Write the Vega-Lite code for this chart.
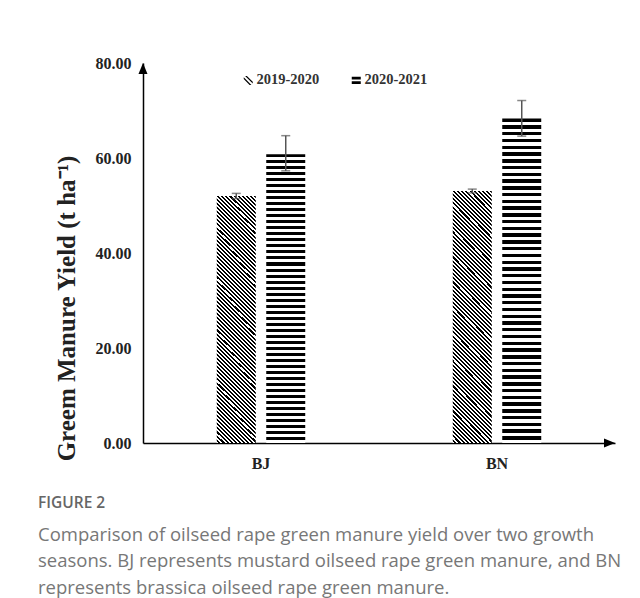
{
"$schema": "https://vega.github.io/schema/vega-lite/v6.json",
"width": 472,
"height": 380,
"autosize": "none",
"padding": {"left": 143, "top": 63, "right": 25, "bottom": 155},
"background": "white",
"config": {"view": {"stroke": null}},
"data": {"values": [
{"group": "BJ", "year": "2019-2020", "yield": 52.0, "lo": 51.45, "hi": 52.55},
{"group": "BJ", "year": "2020-2021", "yield": 60.8, "lo": 57.3, "hi": 64.7},
{"group": "BN", "year": "2019-2020", "yield": 53.05, "lo": 52.65, "hi": 53.45},
{"group": "BN", "year": "2020-2021", "yield": 68.3, "lo": 64.6, "hi": 72.1}
]},
"title": {
"text": "FIGURE 2",
"subtitle": ["Comparison of oilseed rape green manure yield over two growth", "seasons. BJ represents mustard oilseed rape green manure, and BN", "represents brassica oilseed rape green manure."],
"orient": "bottom", "anchor": "start", "frame": "group", "dx": -105, "offset": 25,
"font": "Open Sans", "fontSize": 15.5, "fontWeight": 600, "color": "#666",
"subtitleFont": "Open Sans", "subtitleFontSize": 18.5, "subtitleColor": "#777", "subtitleLineHeight": 26.5, "subtitlePadding": 14
},
"layer": [
{"transform": [{"filter": "datum.year === '2019-2020'"}],
 "encoding": {
"x": {"field": "group", "type": "nominal", "title": null, "scale": {"paddingInner": 0.6, "paddingOuter": 0.3},
 "axis": {"title": null, "ticks": false, "grid": false, "domainColor": "#000", "domainWidth": 1.5, "labelAngle": 0, "labelFont": "Liberation Serif", "labelFontWeight": "bold", "labelFontSize": 16, "labelColor": "#222", "labelPadding": 12}},
"y": {"field": "yield", "type": "quantitative", "title": "Greem Manure Yield (t ha⁻¹)", "scale": {"domain": [0, 80], "nice": false},
 "axis": {"values": [0, 20, 40, 60, 80], "format": ".2f", "ticks": false, "grid": false, "domainColor": "#000", "domainWidth": 1.5, "labelFont": "Liberation Serif", "labelFontWeight": "bold", "labelFontSize": 16, "labelColor": "#222", "labelPadding": 12, "titleFont": "Liberation Serif", "titleFontWeight": "bold", "titleFontSize": 25, "titleColor": "#222", "titleX": -77, "titleY": 245, "titleAngle": -90, "titleBaseline": "middle", "titleAlign": "center"}},
 "xOffset": {"field": "year", "type": "nominal", "scale": {"domain": ["2019-2020", "2020-2021"], "paddingInner": 0.212, "paddingOuter": 0.06}}},
 "mark": {"type": "bar", "fill": {"gradient": "linear", "x1": 1, "y1": 0, "x2": 0.8239, "y2": 1.1285, "stops": [
{"offset":0,"color":"#000"},{"offset":0.0071,"color":"#000"},{"offset":0.0071,"color":"#fff"},{"offset":0.0143,"color":"#fff"},
{"offset":0.0143,"color":"#000"},{"offset":0.0214,"color":"#000"},{"offset":0.0214,"color":"#fff"},{"offset":0.0286,"color":"#fff"},
{"offset":0.0286,"color":"#000"},{"offset":0.0357,"color":"#000"},{"offset":0.0357,"color":"#fff"},{"offset":0.0429,"color":"#fff"},
{"offset":0.0429,"color":"#000"},{"offset":0.05,"color":"#000"},{"offset":0.05,"color":"#fff"},{"offset":0.0571,"color":"#fff"},
{"offset":0.0571,"color":"#000"},{"offset":0.0643,"color":"#000"},{"offset":0.0643,"color":"#fff"},{"offset":0.0714,"color":"#fff"},
{"offset":0.0714,"color":"#000"},{"offset":0.0786,"color":"#000"},{"offset":0.0786,"color":"#fff"},{"offset":0.0857,"color":"#fff"},
{"offset":0.0857,"color":"#000"},{"offset":0.0929,"color":"#000"},{"offset":0.0929,"color":"#fff"},{"offset":0.1,"color":"#fff"},
{"offset":0.1,"color":"#000"},{"offset":0.1071,"color":"#000"},{"offset":0.1071,"color":"#fff"},{"offset":0.1143,"color":"#fff"},
{"offset":0.1143,"color":"#000"},{"offset":0.1214,"color":"#000"},{"offset":0.1214,"color":"#fff"},{"offset":0.1286,"color":"#fff"},
{"offset":0.1286,"color":"#000"},{"offset":0.1357,"color":"#000"},{"offset":0.1357,"color":"#fff"},{"offset":0.1429,"color":"#fff"},
{"offset":0.1429,"color":"#000"},{"offset":0.15,"color":"#000"},{"offset":0.15,"color":"#fff"},{"offset":0.1571,"color":"#fff"},
{"offset":0.1571,"color":"#000"},{"offset":0.1643,"color":"#000"},{"offset":0.1643,"color":"#fff"},{"offset":0.1714,"color":"#fff"},
{"offset":0.1714,"color":"#000"},{"offset":0.1786,"color":"#000"},{"offset":0.1786,"color":"#fff"},{"offset":0.1857,"color":"#fff"},
{"offset":0.1857,"color":"#000"},{"offset":0.1929,"color":"#000"},{"offset":0.1929,"color":"#fff"},{"offset":0.2,"color":"#fff"},
{"offset":0.2,"color":"#000"},{"offset":0.2071,"color":"#000"},{"offset":0.2071,"color":"#fff"},{"offset":0.2143,"color":"#fff"},
{"offset":0.2143,"color":"#000"},{"offset":0.2214,"color":"#000"},{"offset":0.2214,"color":"#fff"},{"offset":0.2286,"color":"#fff"},
{"offset":0.2286,"color":"#000"},{"offset":0.2357,"color":"#000"},{"offset":0.2357,"color":"#fff"},{"offset":0.2429,"color":"#fff"},
{"offset":0.2429,"color":"#000"},{"offset":0.25,"color":"#000"},{"offset":0.25,"color":"#fff"},{"offset":0.2571,"color":"#fff"},
{"offset":0.2571,"color":"#000"},{"offset":0.2643,"color":"#000"},{"offset":0.2643,"color":"#fff"},{"offset":0.2714,"color":"#fff"},
{"offset":0.2714,"color":"#000"},{"offset":0.2786,"color":"#000"},{"offset":0.2786,"color":"#fff"},{"offset":0.2857,"color":"#fff"},
{"offset":0.2857,"color":"#000"},{"offset":0.2929,"color":"#000"},{"offset":0.2929,"color":"#fff"},{"offset":0.3,"color":"#fff"},
{"offset":0.3,"color":"#000"},{"offset":0.3071,"color":"#000"},{"offset":0.3071,"color":"#fff"},{"offset":0.3143,"color":"#fff"},
{"offset":0.3143,"color":"#000"},{"offset":0.3214,"color":"#000"},{"offset":0.3214,"color":"#fff"},{"offset":0.3286,"color":"#fff"},
{"offset":0.3286,"color":"#000"},{"offset":0.3357,"color":"#000"},{"offset":0.3357,"color":"#fff"},{"offset":0.3429,"color":"#fff"},
{"offset":0.3429,"color":"#000"},{"offset":0.35,"color":"#000"},{"offset":0.35,"color":"#fff"},{"offset":0.3571,"color":"#fff"},
{"offset":0.3571,"color":"#000"},{"offset":0.3643,"color":"#000"},{"offset":0.3643,"color":"#fff"},{"offset":0.3714,"color":"#fff"},
{"offset":0.3714,"color":"#000"},{"offset":0.3786,"color":"#000"},{"offset":0.3786,"color":"#fff"},{"offset":0.3857,"color":"#fff"},
{"offset":0.3857,"color":"#000"},{"offset":0.3929,"color":"#000"},{"offset":0.3929,"color":"#fff"},{"offset":0.4,"color":"#fff"},
{"offset":0.4,"color":"#000"},{"offset":0.4071,"color":"#000"},{"offset":0.4071,"color":"#fff"},{"offset":0.4143,"color":"#fff"},
{"offset":0.4143,"color":"#000"},{"offset":0.4214,"color":"#000"},{"offset":0.4214,"color":"#fff"},{"offset":0.4286,"color":"#fff"},
{"offset":0.4286,"color":"#000"},{"offset":0.4357,"color":"#000"},{"offset":0.4357,"color":"#fff"},{"offset":0.4429,"color":"#fff"},
{"offset":0.4429,"color":"#000"},{"offset":0.45,"color":"#000"},{"offset":0.45,"color":"#fff"},{"offset":0.4571,"color":"#fff"},
{"offset":0.4571,"color":"#000"},{"offset":0.4643,"color":"#000"},{"offset":0.4643,"color":"#fff"},{"offset":0.4714,"color":"#fff"},
{"offset":0.4714,"color":"#000"},{"offset":0.4786,"color":"#000"},{"offset":0.4786,"color":"#fff"},{"offset":0.4857,"color":"#fff"},
{"offset":0.4857,"color":"#000"},{"offset":0.4929,"color":"#000"},{"offset":0.4929,"color":"#fff"},{"offset":0.5,"color":"#fff"},
{"offset":0.5,"color":"#000"},{"offset":0.5071,"color":"#000"},{"offset":0.5071,"color":"#fff"},{"offset":0.5143,"color":"#fff"},
{"offset":0.5143,"color":"#000"},{"offset":0.5214,"color":"#000"},{"offset":0.5214,"color":"#fff"},{"offset":0.5286,"color":"#fff"},
{"offset":0.5286,"color":"#000"},{"offset":0.5357,"color":"#000"},{"offset":0.5357,"color":"#fff"},{"offset":0.5429,"color":"#fff"},
{"offset":0.5429,"color":"#000"},{"offset":0.55,"color":"#000"},{"offset":0.55,"color":"#fff"},{"offset":0.5571,"color":"#fff"},
{"offset":0.5571,"color":"#000"},{"offset":0.5643,"color":"#000"},{"offset":0.5643,"color":"#fff"},{"offset":0.5714,"color":"#fff"},
{"offset":0.5714,"color":"#000"},{"offset":0.5786,"color":"#000"},{"offset":0.5786,"color":"#fff"},{"offset":0.5857,"color":"#fff"},
{"offset":0.5857,"color":"#000"},{"offset":0.5929,"color":"#000"},{"offset":0.5929,"color":"#fff"},{"offset":0.6,"color":"#fff"},
{"offset":0.6,"color":"#000"},{"offset":0.6071,"color":"#000"},{"offset":0.6071,"color":"#fff"},{"offset":0.6143,"color":"#fff"},
{"offset":0.6143,"color":"#000"},{"offset":0.6214,"color":"#000"},{"offset":0.6214,"color":"#fff"},{"offset":0.6286,"color":"#fff"},
{"offset":0.6286,"color":"#000"},{"offset":0.6357,"color":"#000"},{"offset":0.6357,"color":"#fff"},{"offset":0.6429,"color":"#fff"},
{"offset":0.6429,"color":"#000"},{"offset":0.65,"color":"#000"},{"offset":0.65,"color":"#fff"},{"offset":0.6571,"color":"#fff"},
{"offset":0.6571,"color":"#000"},{"offset":0.6643,"color":"#000"},{"offset":0.6643,"color":"#fff"},{"offset":0.6714,"color":"#fff"},
{"offset":0.6714,"color":"#000"},{"offset":0.6786,"color":"#000"},{"offset":0.6786,"color":"#fff"},{"offset":0.6857,"color":"#fff"},
{"offset":0.6857,"color":"#000"},{"offset":0.6929,"color":"#000"},{"offset":0.6929,"color":"#fff"},{"offset":0.7,"color":"#fff"},
{"offset":0.7,"color":"#000"},{"offset":0.7071,"color":"#000"},{"offset":0.7071,"color":"#fff"},{"offset":0.7143,"color":"#fff"},
{"offset":0.7143,"color":"#000"},{"offset":0.7214,"color":"#000"},{"offset":0.7214,"color":"#fff"},{"offset":0.7286,"color":"#fff"},
{"offset":0.7286,"color":"#000"},{"offset":0.7357,"color":"#000"},{"offset":0.7357,"color":"#fff"},{"offset":0.7429,"color":"#fff"},
{"offset":0.7429,"color":"#000"},{"offset":0.75,"color":"#000"},{"offset":0.75,"color":"#fff"},{"offset":0.7571,"color":"#fff"},
{"offset":0.7571,"color":"#000"},{"offset":0.7643,"color":"#000"},{"offset":0.7643,"color":"#fff"},{"offset":0.7714,"color":"#fff"},
{"offset":0.7714,"color":"#000"},{"offset":0.7786,"color":"#000"},{"offset":0.7786,"color":"#fff"},{"offset":0.7857,"color":"#fff"},
{"offset":0.7857,"color":"#000"},{"offset":0.7929,"color":"#000"},{"offset":0.7929,"color":"#fff"},{"offset":0.8,"color":"#fff"},
{"offset":0.8,"color":"#000"},{"offset":0.8071,"color":"#000"},{"offset":0.8071,"color":"#fff"},{"offset":0.8143,"color":"#fff"},
{"offset":0.8143,"color":"#000"},{"offset":0.8214,"color":"#000"},{"offset":0.8214,"color":"#fff"},{"offset":0.8286,"color":"#fff"},
{"offset":0.8286,"color":"#000"},{"offset":0.8357,"color":"#000"},{"offset":0.8357,"color":"#fff"},{"offset":0.8429,"color":"#fff"},
{"offset":0.8429,"color":"#000"},{"offset":0.85,"color":"#000"},{"offset":0.85,"color":"#fff"},{"offset":0.8571,"color":"#fff"},
{"offset":0.8571,"color":"#000"},{"offset":0.8643,"color":"#000"},{"offset":0.8643,"color":"#fff"},{"offset":0.8714,"color":"#fff"},
{"offset":0.8714,"color":"#000"},{"offset":0.8786,"color":"#000"},{"offset":0.8786,"color":"#fff"},{"offset":0.8857,"color":"#fff"},
{"offset":0.8857,"color":"#000"},{"offset":0.8929,"color":"#000"},{"offset":0.8929,"color":"#fff"},{"offset":0.9,"color":"#fff"},
{"offset":0.9,"color":"#000"},{"offset":0.9071,"color":"#000"},{"offset":0.9071,"color":"#fff"},{"offset":0.9143,"color":"#fff"},
{"offset":0.9143,"color":"#000"},{"offset":0.9214,"color":"#000"},{"offset":0.9214,"color":"#fff"},{"offset":0.9286,"color":"#fff"},
{"offset":0.9286,"color":"#000"},{"offset":0.9357,"color":"#000"},{"offset":0.9357,"color":"#fff"},{"offset":0.9429,"color":"#fff"},
{"offset":0.9429,"color":"#000"},{"offset":0.95,"color":"#000"},{"offset":0.95,"color":"#fff"},{"offset":0.9571,"color":"#fff"},
{"offset":0.9571,"color":"#000"},{"offset":0.9643,"color":"#000"},{"offset":0.9643,"color":"#fff"},{"offset":0.9714,"color":"#fff"},
{"offset":0.9714,"color":"#000"},{"offset":0.9786,"color":"#000"},{"offset":0.9786,"color":"#fff"},{"offset":0.9857,"color":"#fff"},
{"offset":0.9857,"color":"#000"},{"offset":0.9929,"color":"#000"},{"offset":0.9929,"color":"#fff"},{"offset":1,"color":"#fff"}
]}}},
{"transform": [{"filter": "datum.year === '2020-2021'"}],
 "encoding": {"x": {"field": "group", "type": "nominal"}, "y": {"field": "yield", "type": "quantitative", "title": "Greem Manure Yield (t ha⁻¹)"}, "xOffset": {"field": "year", "type": "nominal"}},
 "mark": {"type": "bar", "fill": {"gradient": "linear", "x1": 0, "y1": 0, "x2": 0, "y2": 1, "stops": [
{"offset":0,"color":"#000"},{"offset":0.0104,"color":"#000"},{"offset":0.0104,"color":"#fff"},{"offset":0.0208,"color":"#fff"},
{"offset":0.0208,"color":"#000"},{"offset":0.0313,"color":"#000"},{"offset":0.0313,"color":"#fff"},{"offset":0.0417,"color":"#fff"},
{"offset":0.0417,"color":"#000"},{"offset":0.0521,"color":"#000"},{"offset":0.0521,"color":"#fff"},{"offset":0.0625,"color":"#fff"},
{"offset":0.0625,"color":"#000"},{"offset":0.0729,"color":"#000"},{"offset":0.0729,"color":"#fff"},{"offset":0.0833,"color":"#fff"},
{"offset":0.0833,"color":"#000"},{"offset":0.0938,"color":"#000"},{"offset":0.0938,"color":"#fff"},{"offset":0.1042,"color":"#fff"},
{"offset":0.1042,"color":"#000"},{"offset":0.1146,"color":"#000"},{"offset":0.1146,"color":"#fff"},{"offset":0.125,"color":"#fff"},
{"offset":0.125,"color":"#000"},{"offset":0.1354,"color":"#000"},{"offset":0.1354,"color":"#fff"},{"offset":0.1458,"color":"#fff"},
{"offset":0.1458,"color":"#000"},{"offset":0.1563,"color":"#000"},{"offset":0.1563,"color":"#fff"},{"offset":0.1667,"color":"#fff"},
{"offset":0.1667,"color":"#000"},{"offset":0.1771,"color":"#000"},{"offset":0.1771,"color":"#fff"},{"offset":0.1875,"color":"#fff"},
{"offset":0.1875,"color":"#000"},{"offset":0.1979,"color":"#000"},{"offset":0.1979,"color":"#fff"},{"offset":0.2083,"color":"#fff"},
{"offset":0.2083,"color":"#000"},{"offset":0.2188,"color":"#000"},{"offset":0.2188,"color":"#fff"},{"offset":0.2292,"color":"#fff"},
{"offset":0.2292,"color":"#000"},{"offset":0.2396,"color":"#000"},{"offset":0.2396,"color":"#fff"},{"offset":0.25,"color":"#fff"},
{"offset":0.25,"color":"#000"},{"offset":0.2604,"color":"#000"},{"offset":0.2604,"color":"#fff"},{"offset":0.2708,"color":"#fff"},
{"offset":0.2708,"color":"#000"},{"offset":0.2813,"color":"#000"},{"offset":0.2813,"color":"#fff"},{"offset":0.2917,"color":"#fff"},
{"offset":0.2917,"color":"#000"},{"offset":0.3021,"color":"#000"},{"offset":0.3021,"color":"#fff"},{"offset":0.3125,"color":"#fff"},
{"offset":0.3125,"color":"#000"},{"offset":0.3229,"color":"#000"},{"offset":0.3229,"color":"#fff"},{"offset":0.3333,"color":"#fff"},
{"offset":0.3333,"color":"#000"},{"offset":0.3438,"color":"#000"},{"offset":0.3438,"color":"#fff"},{"offset":0.3542,"color":"#fff"},
{"offset":0.3542,"color":"#000"},{"offset":0.3646,"color":"#000"},{"offset":0.3646,"color":"#fff"},{"offset":0.375,"color":"#fff"},
{"offset":0.375,"color":"#000"},{"offset":0.3854,"color":"#000"},{"offset":0.3854,"color":"#fff"},{"offset":0.3958,"color":"#fff"},
{"offset":0.3958,"color":"#000"},{"offset":0.4063,"color":"#000"},{"offset":0.4063,"color":"#fff"},{"offset":0.4167,"color":"#fff"},
{"offset":0.4167,"color":"#000"},{"offset":0.4271,"color":"#000"},{"offset":0.4271,"color":"#fff"},{"offset":0.4375,"color":"#fff"},
{"offset":0.4375,"color":"#000"},{"offset":0.4479,"color":"#000"},{"offset":0.4479,"color":"#fff"},{"offset":0.4583,"color":"#fff"},
{"offset":0.4583,"color":"#000"},{"offset":0.4688,"color":"#000"},{"offset":0.4688,"color":"#fff"},{"offset":0.4792,"color":"#fff"},
{"offset":0.4792,"color":"#000"},{"offset":0.4896,"color":"#000"},{"offset":0.4896,"color":"#fff"},{"offset":0.5,"color":"#fff"},
{"offset":0.5,"color":"#000"},{"offset":0.5104,"color":"#000"},{"offset":0.5104,"color":"#fff"},{"offset":0.5208,"color":"#fff"},
{"offset":0.5208,"color":"#000"},{"offset":0.5313,"color":"#000"},{"offset":0.5313,"color":"#fff"},{"offset":0.5417,"color":"#fff"},
{"offset":0.5417,"color":"#000"},{"offset":0.5521,"color":"#000"},{"offset":0.5521,"color":"#fff"},{"offset":0.5625,"color":"#fff"},
{"offset":0.5625,"color":"#000"},{"offset":0.5729,"color":"#000"},{"offset":0.5729,"color":"#fff"},{"offset":0.5833,"color":"#fff"},
{"offset":0.5833,"color":"#000"},{"offset":0.5938,"color":"#000"},{"offset":0.5938,"color":"#fff"},{"offset":0.6042,"color":"#fff"},
{"offset":0.6042,"color":"#000"},{"offset":0.6146,"color":"#000"},{"offset":0.6146,"color":"#fff"},{"offset":0.625,"color":"#fff"},
{"offset":0.625,"color":"#000"},{"offset":0.6354,"color":"#000"},{"offset":0.6354,"color":"#fff"},{"offset":0.6458,"color":"#fff"},
{"offset":0.6458,"color":"#000"},{"offset":0.6563,"color":"#000"},{"offset":0.6563,"color":"#fff"},{"offset":0.6667,"color":"#fff"},
{"offset":0.6667,"color":"#000"},{"offset":0.6771,"color":"#000"},{"offset":0.6771,"color":"#fff"},{"offset":0.6875,"color":"#fff"},
{"offset":0.6875,"color":"#000"},{"offset":0.6979,"color":"#000"},{"offset":0.6979,"color":"#fff"},{"offset":0.7083,"color":"#fff"},
{"offset":0.7083,"color":"#000"},{"offset":0.7188,"color":"#000"},{"offset":0.7188,"color":"#fff"},{"offset":0.7292,"color":"#fff"},
{"offset":0.7292,"color":"#000"},{"offset":0.7396,"color":"#000"},{"offset":0.7396,"color":"#fff"},{"offset":0.75,"color":"#fff"},
{"offset":0.75,"color":"#000"},{"offset":0.7604,"color":"#000"},{"offset":0.7604,"color":"#fff"},{"offset":0.7708,"color":"#fff"},
{"offset":0.7708,"color":"#000"},{"offset":0.7813,"color":"#000"},{"offset":0.7813,"color":"#fff"},{"offset":0.7917,"color":"#fff"},
{"offset":0.7917,"color":"#000"},{"offset":0.8021,"color":"#000"},{"offset":0.8021,"color":"#fff"},{"offset":0.8125,"color":"#fff"},
{"offset":0.8125,"color":"#000"},{"offset":0.8229,"color":"#000"},{"offset":0.8229,"color":"#fff"},{"offset":0.8333,"color":"#fff"},
{"offset":0.8333,"color":"#000"},{"offset":0.8438,"color":"#000"},{"offset":0.8438,"color":"#fff"},{"offset":0.8542,"color":"#fff"},
{"offset":0.8542,"color":"#000"},{"offset":0.8646,"color":"#000"},{"offset":0.8646,"color":"#fff"},{"offset":0.875,"color":"#fff"},
{"offset":0.875,"color":"#000"},{"offset":0.8854,"color":"#000"},{"offset":0.8854,"color":"#fff"},{"offset":0.8958,"color":"#fff"},
{"offset":0.8958,"color":"#000"},{"offset":0.9063,"color":"#000"},{"offset":0.9063,"color":"#fff"},{"offset":0.9167,"color":"#fff"},
{"offset":0.9167,"color":"#000"},{"offset":0.9271,"color":"#000"},{"offset":0.9271,"color":"#fff"},{"offset":0.9375,"color":"#fff"},
{"offset":0.9375,"color":"#000"},{"offset":0.9479,"color":"#000"},{"offset":0.9479,"color":"#fff"},{"offset":0.9583,"color":"#fff"},
{"offset":0.9583,"color":"#000"},{"offset":0.9688,"color":"#000"},{"offset":0.9688,"color":"#fff"},{"offset":0.9792,"color":"#fff"},
{"offset":0.9792,"color":"#000"},{"offset":0.9896,"color":"#000"},{"offset":0.9896,"color":"#fff"},{"offset":1,"color":"#fff"}
]}}},
{"mark": {"type": "rule", "color": "#555", "strokeWidth": 1.5},
 "encoding": {"x": {"field": "group", "type": "nominal"}, "xOffset": {"field": "year", "type": "nominal"}, "y": {"field": "lo", "type": "quantitative", "title": "Greem Manure Yield (t ha⁻¹)"}, "y2": {"field": "hi"}}},
{"mark": {"type": "tick", "color": "#555", "thickness": 1.5, "size": 9},
 "encoding": {"x": {"field": "group", "type": "nominal"}, "xOffset": {"field": "year", "type": "nominal"}, "y": {"field": "lo", "type": "quantitative", "title": "Greem Manure Yield (t ha⁻¹)"}}},
{"mark": {"type": "tick", "color": "#555", "thickness": 1.5, "size": 9},
 "encoding": {"x": {"field": "group", "type": "nominal"}, "xOffset": {"field": "year", "type": "nominal"}, "y": {"field": "hi", "type": "quantitative", "title": "Greem Manure Yield (t ha⁻¹)"}}},
{"mark": {"type": "point", "filled": true, "color": "#000", "opacity": 0},
 "encoding": {"x": {"field": "group", "type": "nominal"}, "xOffset": {"field": "year", "type": "nominal"}, "y": {"field": "yield", "type": "quantitative", "title": "Greem Manure Yield (t ha⁻¹)"},
  "shape": {"field": "year", "type": "nominal",
  "scale": {"range": ["M-0.7,-1L-0.3,-1L1,0.3L1,0.7Z M-1,-0.7L0.7,1L0.3,1L-1,-0.3Z", "M-1,-0.8H1V-0.2H-1Z M-1,0.2H1V0.8H-1Z"]},
  "legend": {"title": null, "orient": "none", "legendX": 98, "legendY": 10, "direction": "horizontal", "padding": 0,
   "symbolSize": 81, "symbolFillColor": "#000", "symbolStrokeWidth": 0, "symbolOpacity": 1,
   "labelFont": "Liberation Serif", "labelFontWeight": "bold", "labelFontSize": 14.5, "labelColor": "#333", "labelOffset": 1, "columnPadding": 29}}}},
{"transform": [{"filter": "datum.group === 'BJ' && datum.year === '2019-2020'"}],
 "mark": {"type": "point", "shape": "M0,0L-0.41,1L0.41,1Z", "filled": true, "fill": "#000", "strokeWidth": 0, "size": 484, "opacity": 1},
 "encoding": {"x": {"value": 0}, "y": {"value": 0}}},
{"transform": [{"filter": "datum.group === 'BJ' && datum.year === '2019-2020'"}],
 "mark": {"type": "point", "shape": "M0,0L-1,-0.41L-1,0.41Z", "filled": true, "fill": "#000", "strokeWidth": 0, "size": 484, "opacity": 1},
 "encoding": {"x": {"value": "width"}, "y": {"value": "height"}}}
]
}
